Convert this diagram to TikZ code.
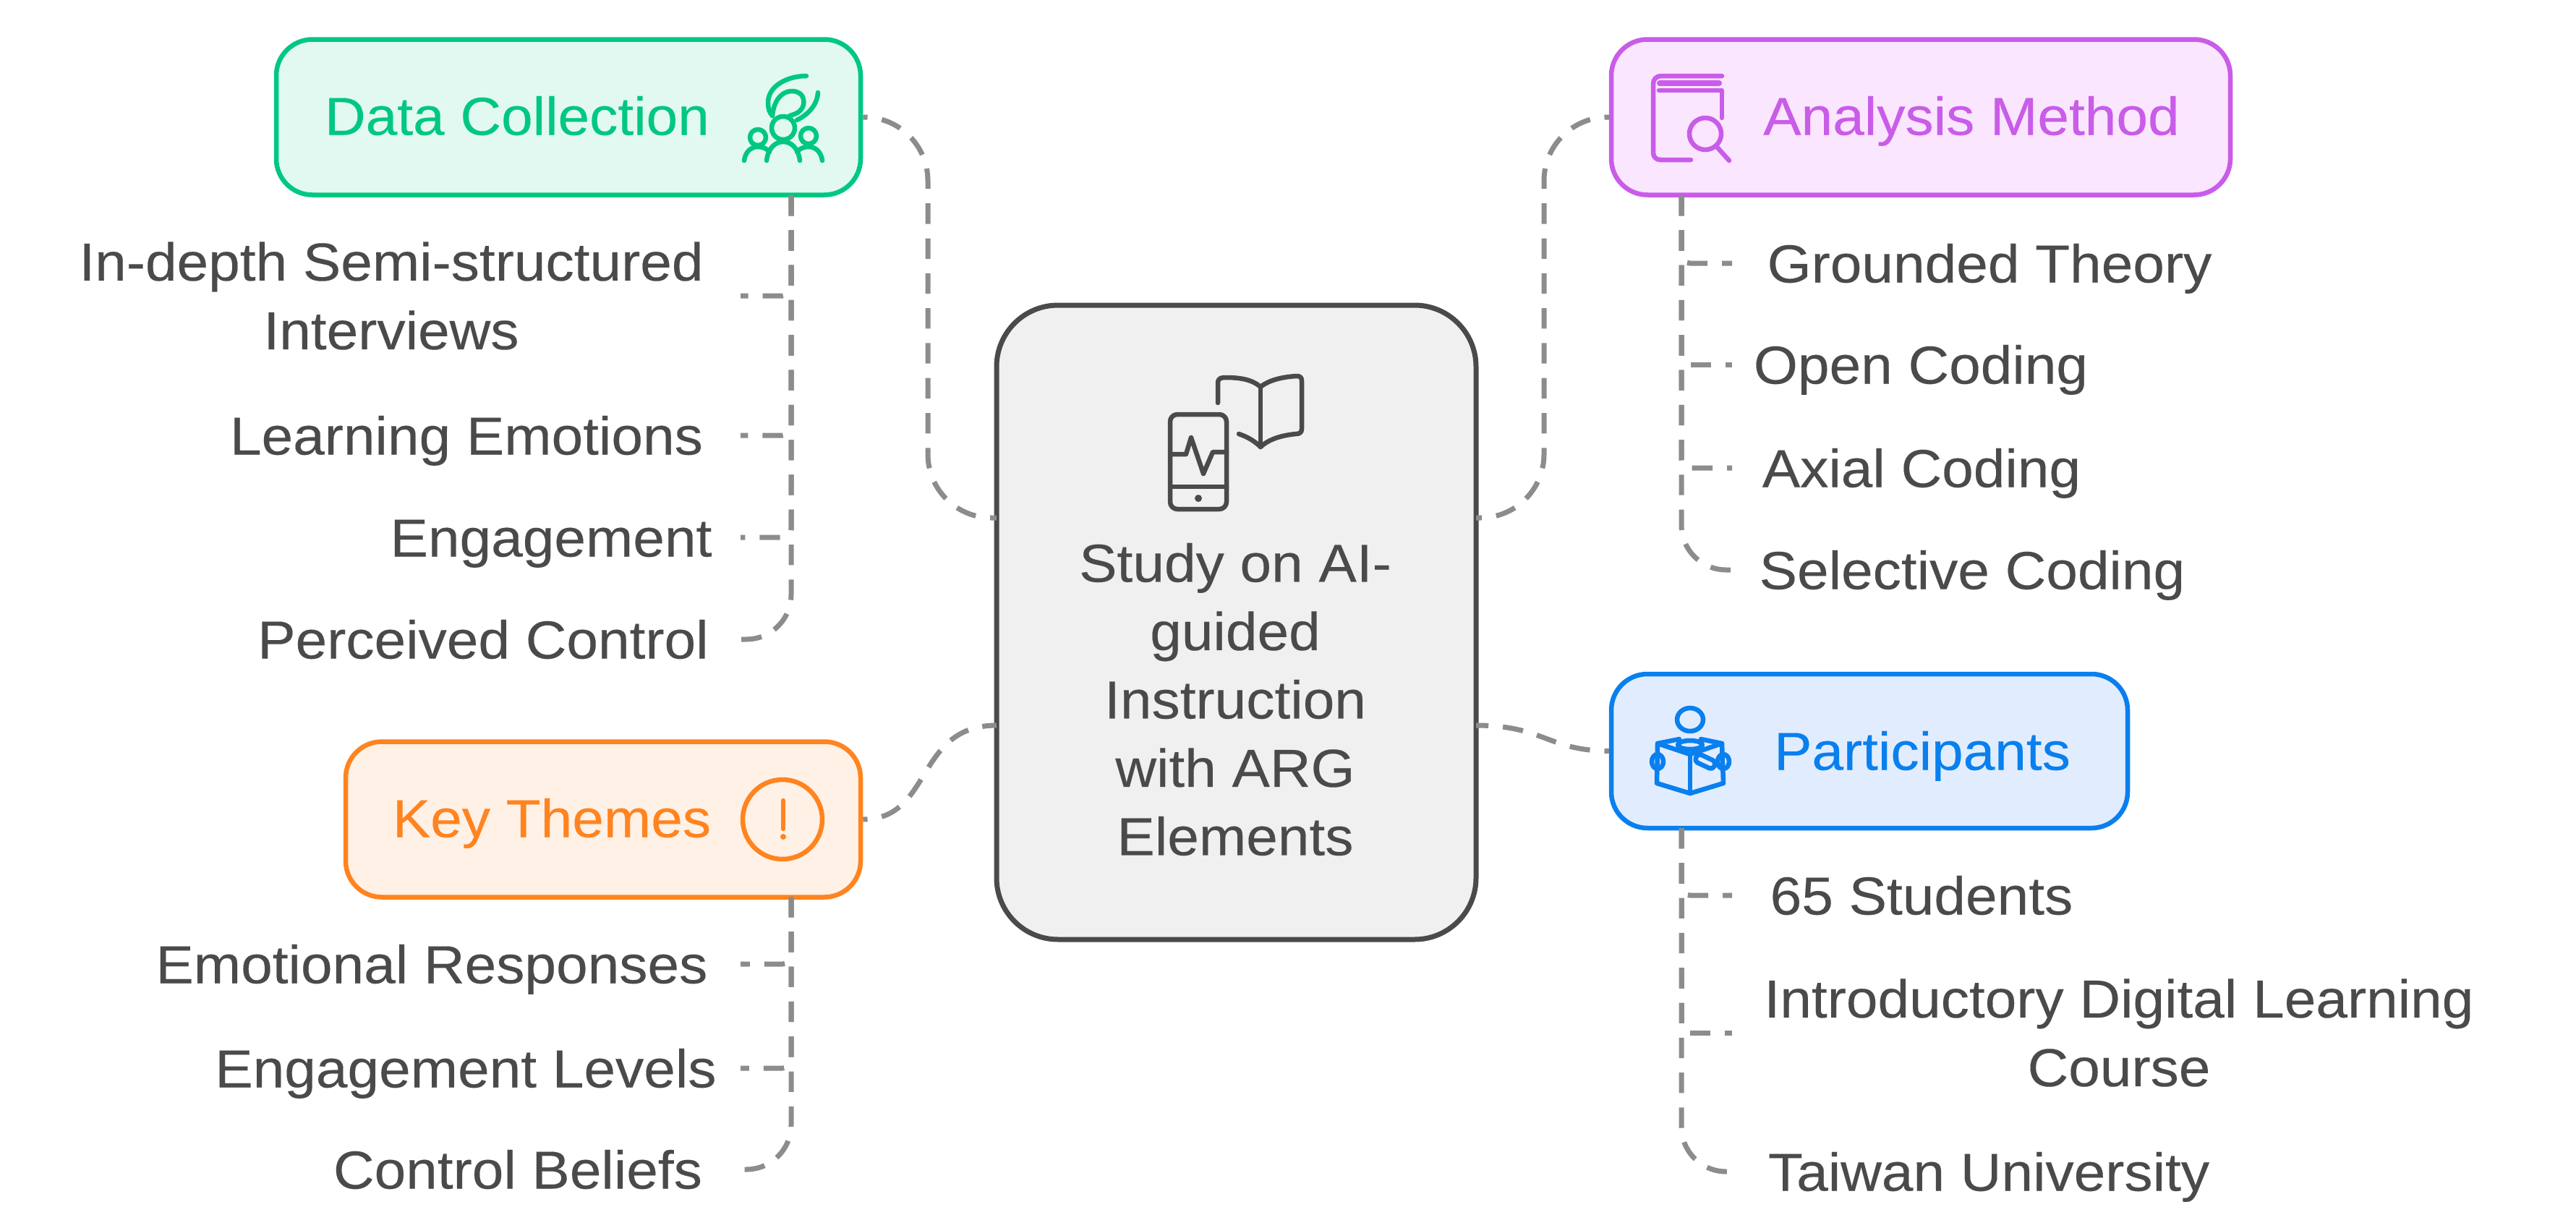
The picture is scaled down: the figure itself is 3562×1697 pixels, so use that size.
\documentclass[tikz,border=0pt]{standalone}
\usepackage{fontspec}
\setmainfont{Liberation Sans}[FakeStretch=1.06,FakeBold=0.2]
\definecolor{ink}{HTML}{4A4A4A}
\definecolor{conn}{HTML}{8C8C8C}
\definecolor{greenC}{HTML}{00C781}\definecolor{greenF}{HTML}{E2F9F1}
\definecolor{purpC}{HTML}{C95CE8}\definecolor{purpF}{HTML}{FBE6FF}
\definecolor{orC}{HTML}{FF8420}\definecolor{orF}{HTML}{FFF1E6}
\definecolor{blC}{HTML}{0A7FEE}\definecolor{blF}{HTML}{E1EDFF}
\definecolor{cenF}{HTML}{F0F0F0}
\tikzset{
  x=1pt,y=-1pt,
  tbox/.style={draw,rounded corners=50pt,line width=6.5pt,inner sep=0pt},
  ttl/.style={inner sep=0pt,font=\fontsize{74}{94.5}\selectfont,text height=53pt,text depth=0pt},
  leaf/.style={inner sep=0pt,text=ink,font=\fontsize{74}{94.5}\selectfont,text height=53pt,text depth=0pt},
  leafm/.style={inner sep=0pt,text=ink,align=center,font=\fontsize{74}{95}\selectfont},
  cline/.style={draw=conn,line width=7pt,dash pattern=on 28.3pt off 20pt},
  branch/.style={cline,rounded corners=12pt},
  lastb/.style={cline,rounded corners=62pt},
  link/.style={cline,rounded corners=88pt,dash phase=22pt},
  ico/.style={line width=6.5pt,line cap=round,line join=round},
}
\begin{document}
\begin{tikzpicture}
\useasboundingbox (0,0) rectangle (3562,1697);
\fill[white] (0,0) rectangle (3562,1697);
% boxes
\node[tbox,draw=ink,fill=cenF,line width=7pt,rounded corners=85pt,minimum width=663pt,minimum height=877pt] (cen) at (1709.5,860.5) {};
\node[tbox,draw=greenC,fill=greenF,minimum width=808pt,minimum height=215pt] (dc) at (786,162) {};
\node[tbox,draw=purpC,fill=purpF,minimum width=856pt,minimum height=215pt] (am) at (2656,162) {};
\node[tbox,draw=orC,fill=orF,minimum width=712pt,minimum height=215pt] (kt) at (834,1133) {};
\node[tbox,draw=blC,fill=blF,minimum width=714pt,minimum height=213pt] (pa) at (2585,1038.5) {};
% titles
\node[ttl,text=greenC] (dct) at (715,160) {Data Collection};
\node[ttl,text=purpC] (amt) at (2726,160) {Analysis Method};
\node[ttl,text=orC] (ktt) at (763,1131) {Key Themes};
\node[ttl,text=blC] (pat) at (2658,1038) {Participants};
\node[inner sep=0pt,text=ink,align=center,font=\fontsize{74}{94.5}\selectfont] (cent) at (1708,967) {Study on AI-\\guided\\Instruction\\with ARG\\Elements};
% leaves
\node[leafm] (l1) at (541,409) {In-depth Semi-structured\\Interviews};
\node[leaf] (l2) at (645,602) {Learning Emotions};
\node[leaf] (l3) at (762,743) {Engagement};
\node[leaf] (l4) at (668,884) {Perceived Control};
\node[leaf] (k1) at (597,1333) {Emotional Responses};
\node[leaf] (k2) at (644,1477) {Engagement Levels};
\node[leaf] (k3) at (716,1617) {Control Beliefs};
\node[leaf] (a1) at (2751,364) {Grounded Theory};
\node[leaf] (a2) at (2656,504) {Open Coding};
\node[leaf] (a3) at (2657,647) {Axial Coding};
\node[leaf] (a4) at (2727,788) {Selective Coding};
\node[leaf] (p1) at (2657,1238) {65 Students};
\node[leafm] (p2) at (2930,1428) {Introductory Digital Learning\\Course};
\node[leaf] (p3) at (2750,1620) {Taiwan University};
% connector anchors
\coordinate (lb) at (1024,0);
\coordinate (rb) at (2395,0);
\coordinate (dcb) at (1094,270);
\coordinate (ktb) at (1094,1240);
\coordinate (amb) at (2325,270);
\coordinate (pab) at (2325,1145);
\coordinate (cw1) at (1378,716);
\coordinate (cw2) at (1378,1003);
\coordinate (ce1) at (2041,716);
\coordinate (ce2) at (2041,1003);
\coordinate (dcv1) at (1283,162);
\coordinate (dcv2) at (1283,716);
\coordinate (amv1) at (2135,162);
\coordinate (amv2) at (2135,716);
% leaf connectors
\draw[branch] (dcb) |- (lb |- l1.center);
\draw[branch] (dcb) |- (lb |- l2.center);
\draw[branch] (dcb) |- (lb |- l3.center);
\draw[lastb] (dcb) |- (lb |- l4.center);
\draw[branch] (ktb) |- (lb |- k1.center);
\draw[branch] (ktb) |- (lb |- k2.center);
\draw[lastb] (ktb) |- (lb |- k3.center);
\draw[branch] (amb) |- (rb |- a1.center);
\draw[branch] (amb) |- (rb |- a2.center);
\draw[branch] (amb) |- (rb |- a3.center);
\draw[lastb] (amb) |- (rb |- a4.center);
\draw[branch] (pab) |- (rb |- p1.center);
\draw[branch] (pab) |- (rb |- p2.center);
\draw[lastb] (pab) |- (rb |- p3.center);
% hub connectors
\draw[link] (dc.east) -- (dcv1) -- (dcv2) -- (cw1);
\draw[link] (am.west) -- (amv1) -- (amv2) -- (ce1);
\draw[cline,dash phase=22pt] (kt.east) .. controls (1290,1133) and (1265,1003) .. (cw2);
\draw[cline,dash phase=22pt] (pa.west) .. controls (2140,1038) and (2135,1003) .. (ce2);
% icon: centre
\begin{scope}[ico,draw=ink]
\draw[rounded corners=10pt] (1618,573) rectangle (1696,704);
\draw (1618,673) -- (1696,673);
\fill[ink] (1657,689) circle (5);
\draw (1618,628) -- (1640,628) -- (1647,605) -- (1664,655) -- (1677,625) -- (1696,625);
\draw (1684,557) -- (1684,530) .. controls (1684,522) and (1690,522) .. (1695,522) .. controls (1715,522) and (1732,525) .. (1743,535) .. controls (1755,525) and (1775,521) .. (1793,520) .. controls (1798,520) and (1800,522) .. (1800,527) -- (1800,593) .. controls (1800,598) and (1797,600) .. (1792,600) .. controls (1772,602) and (1755,607) .. (1743,618) .. controls (1735,610) and (1725,604) .. (1713,600);
\draw (1743,535) -- (1743,618);
\end{scope}
% icon: data collection
\begin{scope}[ico,draw=greenC]
\draw (1083,177) circle (16);
\draw (1048,190) circle (11);
\draw (1118,188) circle (11);
\draw (1029,222) .. controls (1031,208) and (1040,203) .. (1048,203) .. controls (1054,203) and (1060,205) .. (1064,210);
\draw (1137,222) .. controls (1135,208) and (1126,203) .. (1118,203) .. controls (1112,203) and (1106,205) .. (1102,210);
\draw (1060,222) .. controls (1062,205) and (1072,196) .. (1083,196) .. controls (1094,196) and (1104,205) .. (1106,222);
\draw (1115,105) .. controls (1090,105) and (1062,118) .. (1062,142) .. controls (1062,150) and (1064,156) .. (1068,160);
\draw (1068,160) .. controls (1070,140) and (1080,126) .. (1095,126) .. controls (1107,126) and (1113,134) .. (1111,145) .. controls (1108,156) and (1098,158) .. (1092,160);
\draw (1131,128) .. controls (1130,145) and (1118,158) .. (1102,166);
\end{scope}
% icon: analysis method
\begin{scope}[ico,draw=purpC]
\draw (2381,105) -- (2297,105) .. controls (2290,105) and (2286,110) .. (2286,116) -- (2286,211) .. controls (2286,217) and (2290,221) .. (2296,221) -- (2338,221);
\draw[line width=8pt] (2295,115) -- (2377,115);
\draw (2294,125) -- (2381,125) -- (2381,163);
\draw (2358,185) circle (22);
\draw (2373,202) -- (2391,222);
\end{scope}
% icon: participants
\begin{scope}[ico,draw=blC]
\draw (2337,995) ellipse (18 and 16);
\draw (2337,1030) ellipse (17 and 6);
\draw (2322,1022) -- (2292,1028) -- (2291,1083) -- (2337,1097) -- (2383,1083) -- (2381,1028) -- (2352,1022);
\draw (2292,1028) -- (2337,1043) -- (2381,1028);
\draw (2337,1043) -- (2337,1097);
\draw (2292,1053) ellipse (8 and 10);
\draw (2383,1053) ellipse (8 and 10);
\draw[rotate around={-25:(2358,1053)},rounded corners=5pt] (2344,1047) rectangle (2372,1059);
\end{scope}
% icon: key themes
\begin{scope}[ico,draw=orC]
\draw (1082,1133) circle (55);
\draw (1083,1107) -- (1083,1146);
\fill[orC] (1083,1157) circle (4);
\end{scope}
\end{tikzpicture}
\end{document}
